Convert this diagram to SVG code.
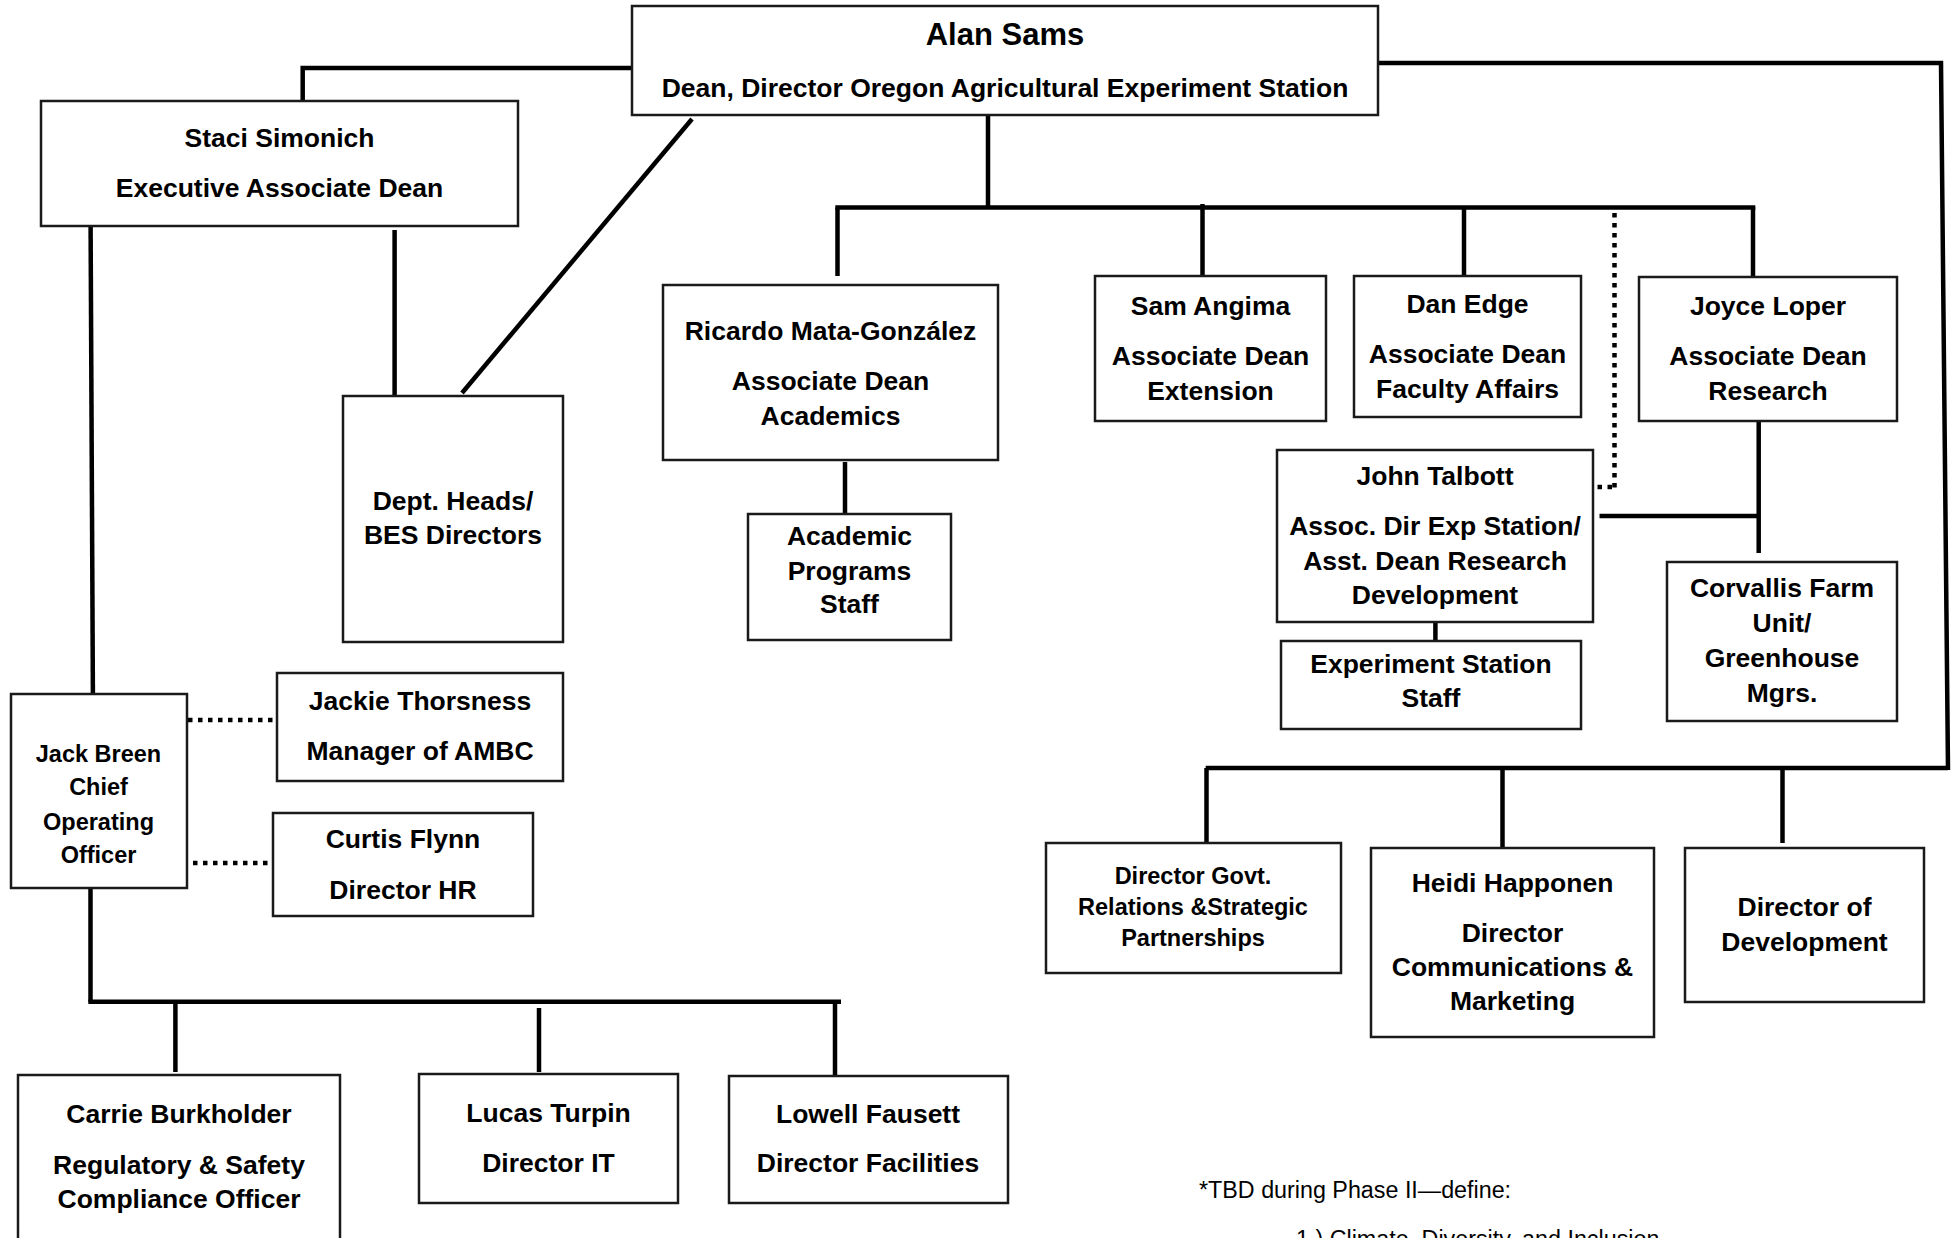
<svg xmlns="http://www.w3.org/2000/svg" width="1959" height="1238" viewBox="0 0 1959 1238">
<style>
.box{fill:#fff;stroke:#1a1a1a;stroke-width:2.5}
.t{font-family:"Liberation Sans",Arial,sans-serif;font-weight:bold;font-size:26.5px;text-anchor:middle;fill:#000}
.s{font-size:23.5px}
.big{font-size:31px}
.note{font-family:"Liberation Sans",Arial,sans-serif;font-size:23.3px;fill:#000}
.ln{stroke:#000;stroke-width:4.5;fill:none}
.dot{stroke-dasharray:4.5 5.5}
</style>
<rect width="1959" height="1238" fill="#fff"/>
<g id="connectors">
<path class="ln" d="M632,68 H302.7 V101"/>
<path class="ln" d="M1378,63 H1941 L1948,770"/>
<path class="ln" d="M1205.7,768 H1948"/>
<path class="ln" d="M1206.5,768 V843"/>
<path class="ln" d="M1502.5,768 V848"/>
<path class="ln" d="M1782.5,768 V843"/>
<path class="ln" d="M988,115 V208"/>
<path class="ln" d="M835.3,207.5 H1755.3"/>
<path class="ln" d="M837.5,207.5 V276"/>
<path class="ln" d="M1202.5,204 V276"/>
<path class="ln" d="M1464,207 V276"/>
<path class="ln" d="M1753,207 V277"/>
<path class="ln dot" d="M1614.5,213 V489"/>
<path class="ln dot" d="M1612,487 H1593"/>
<path class="ln" d="M1758.7,416 V553"/>
<path class="ln" d="M1599.5,516 H1758.7"/>
<path class="ln" d="M1435.4,622 V641"/>
<path class="ln" d="M845,462 V515"/>
<path class="ln" d="M90.6,226 L92.9,694"/>
<path class="ln" d="M394.6,230 V397"/>
<path class="ln" d="M692,119 L462,393"/>
<path class="ln dot" d="M188,720 H277"/>
<path class="ln dot" d="M193,863 H273"/>
<path class="ln" d="M90.5,888 V1001.7"/>
<path class="ln" d="M88.3,1001.7 H841"/>
<path class="ln" d="M175.4,1001 V1072"/>
<path class="ln" d="M539,1008 V1072"/>
<path class="ln" d="M835,1001 V1076"/>
</g>
<g id="alan"><rect class="box" x="632" y="6" width="746" height="109"/>
<text class="t big" x="1005" y="45">Alan Sams</text>
<text class="t" x="1005" y="97">Dean, Director Oregon Agricultural Experiment Station</text></g>
<g id="staci"><rect class="box" x="41" y="101" width="477" height="125"/>
<text class="t" x="279.5" y="147">Staci Simonich</text>
<text class="t" x="279.5" y="197">Executive Associate Dean</text></g>
<g id="depts"><rect class="box" x="343" y="396" width="220" height="246"/>
<text class="t" x="453" y="510">Dept. Heads/</text>
<text class="t" x="453" y="544">BES Directors</text></g>
<g id="ricardo"><rect class="box" x="663" y="285" width="335" height="175"/>
<text class="t" x="830.5" y="340">Ricardo Mata-González</text>
<text class="t" x="830.5" y="390">Associate Dean</text>
<text class="t" x="830.5" y="425">Academics</text></g>
<g id="academic-staff"><rect class="box" x="748" y="514" width="203" height="126"/>
<text class="t" x="849.5" y="545">Academic</text>
<text class="t" x="849.5" y="580">Programs</text>
<text class="t" x="849.5" y="613">Staff</text></g>
<g id="sam"><rect class="box" x="1095" y="276" width="231" height="145"/>
<text class="t" x="1210.5" y="315">Sam Angima</text>
<text class="t" x="1210.5" y="365">Associate Dean</text>
<text class="t" x="1210.5" y="400">Extension</text></g>
<g id="dan"><rect class="box" x="1354" y="276" width="227" height="141"/>
<text class="t" x="1467.5" y="313">Dan Edge</text>
<text class="t" x="1467.5" y="363">Associate Dean</text>
<text class="t" x="1467.5" y="398">Faculty Affairs</text></g>
<g id="joyce"><rect class="box" x="1639" y="277" width="258" height="144"/>
<text class="t" x="1768" y="315">Joyce Loper</text>
<text class="t" x="1768" y="365">Associate Dean</text>
<text class="t" x="1768" y="400">Research</text></g>
<g id="john"><rect class="box" x="1277" y="450" width="316" height="172"/>
<text class="t" x="1435" y="485">John Talbott</text>
<text class="t" x="1435" y="535">Assoc. Dir Exp Station/</text>
<text class="t" x="1435" y="570">Asst. Dean Research</text>
<text class="t" x="1435" y="604">Development</text></g>
<g id="exp-staff"><rect class="box" x="1281" y="641" width="300" height="88"/>
<text class="t" x="1431" y="673">Experiment Station</text>
<text class="t" x="1431" y="707">Staff</text></g>
<g id="corvallis"><rect class="box" x="1667" y="562" width="230" height="159"/>
<text class="t" x="1782" y="597">Corvallis Farm</text>
<text class="t" x="1782" y="632">Unit/</text>
<text class="t" x="1782" y="667">Greenhouse</text>
<text class="t" x="1782" y="702">Mgrs.</text></g>
<g id="jack"><rect class="box" x="11" y="694" width="176" height="194"/>
<text class="t s" x="98.5" y="762">Jack Breen</text>
<text class="t s" x="98.5" y="795">Chief</text>
<text class="t s" x="98.5" y="830">Operating</text>
<text class="t s" x="98.5" y="863">Officer</text></g>
<g id="jackie"><rect class="box" x="277" y="673" width="286" height="108"/>
<text class="t" x="420" y="710">Jackie Thorsness</text>
<text class="t" x="420" y="760">Manager of AMBC</text></g>
<g id="curtis"><rect class="box" x="273" y="813" width="260" height="103"/>
<text class="t" x="403" y="848">Curtis Flynn</text>
<text class="t" x="403" y="899">Director HR</text></g>
<g id="carrie"><rect class="box" x="18" y="1075" width="322" height="200"/>
<text class="t" x="179" y="1123">Carrie Burkholder</text>
<text class="t" x="179" y="1174">Regulatory &amp; Safety</text>
<text class="t" x="179" y="1208">Compliance Officer</text></g>
<g id="lucas"><rect class="box" x="419" y="1074" width="259" height="129"/>
<text class="t" x="548.5" y="1122">Lucas Turpin</text>
<text class="t" x="548.5" y="1172">Director IT</text></g>
<g id="lowell"><rect class="box" x="729" y="1076" width="279" height="127"/>
<text class="t" x="868" y="1123">Lowell Fausett</text>
<text class="t" x="868" y="1172">Director Facilities</text></g>
<g id="govt"><rect class="box" x="1046" y="843" width="295" height="130"/>
<text class="t s" x="1193" y="884">Director Govt.</text>
<text class="t s" x="1193" y="915">Relations &amp;Strategic</text>
<text class="t s" x="1193" y="946">Partnerships</text></g>
<g id="heidi"><rect class="box" x="1371" y="848" width="283" height="189"/>
<text class="t" x="1512.5" y="892">Heidi Happonen</text>
<text class="t" x="1512.5" y="942">Director</text>
<text class="t" x="1512.5" y="976">Communications &amp;</text>
<text class="t" x="1512.5" y="1010">Marketing</text></g>
<g id="development"><rect class="box" x="1685" y="848" width="239" height="154"/>
<text class="t" x="1804.5" y="916">Director of</text>
<text class="t" x="1804.5" y="951">Development</text></g>
<g id="note">
<text class="note" x="1199" y="1198">*TBD during Phase II—define:</text>
<text class="note" x="1296" y="1247">1.) Climate, Diversity, and Inclusion</text>
</g>
</svg>
